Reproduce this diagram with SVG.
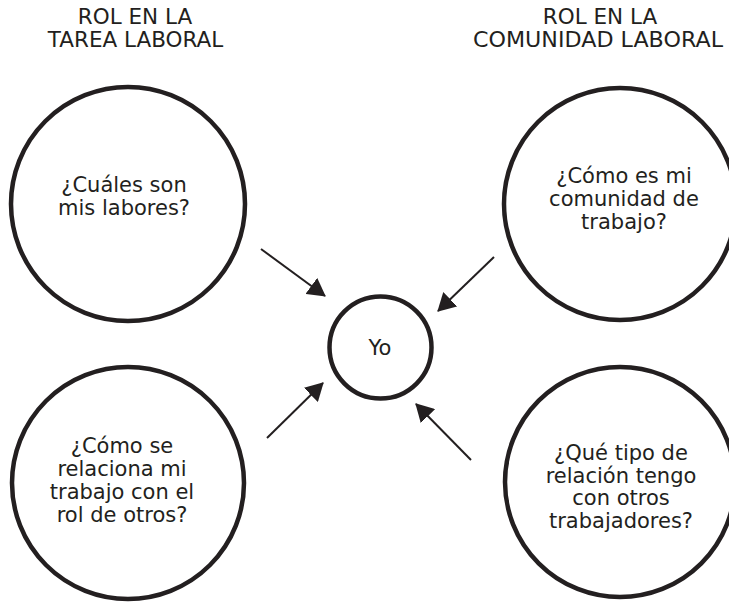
<svg xmlns="http://www.w3.org/2000/svg" width="729" height="605" viewBox="0 0 729 605">
<style>
text{font-family:"DejaVu Sans","Liberation Sans",sans-serif;fill:#231f20;text-anchor:middle}
.t{font-size:21.5px}
.q{font-size:21px}
.n{fill:#fff;stroke:#231f20;stroke-width:4.5}
.c{stroke:#231f20;stroke-width:2;fill:none}
</style>
<defs>
<marker id="ah" viewBox="0 0 18 20" refX="17" refY="10" markerWidth="18" markerHeight="20" markerUnits="userSpaceOnUse" orient="auto"><path d="M0,0L18,10L0,20z" fill="#231f20"/></marker>
</defs>
<rect width="729" height="605" fill="#fff"/>
<g id="title-left"><text class="t" x="135" y="24">ROL EN LA</text><text class="t" x="135.5" y="47">TAREA LABORAL</text></g>
<g id="title-right"><text class="t" x="600" y="24">ROL EN LA</text><text class="t" x="598" y="47" textLength="250" lengthAdjust="spacingAndGlyphs">COMUNIDAD LABORAL</text></g>
<g id="n-tl"><circle class="n" cx="128" cy="204" r="117"/><text class="q" x="124" y="192">¿Cuáles son</text><text class="q" x="124" y="215">mis labores?</text></g>
<g id="n-tr"><circle class="n" cx="620" cy="204" r="116"/><text class="q" x="624" y="183">¿Cómo es mi</text><text class="q" x="624" y="206">comunidad de</text><text class="q" x="624" y="228.5">trabajo?</text></g>
<g id="n-bl"><circle class="n" cx="128" cy="483" r="116"/><text class="q" x="122" y="453">¿Cómo se</text><text class="q" x="122" y="476">relaciona mi</text><text class="q" x="122" y="498.5">trabajo con el</text><text class="q" x="122" y="521.5">rol de otros?</text></g>
<g id="n-br"><circle class="n" cx="620" cy="482" r="115"/><text class="q" x="621" y="460">¿Qué tipo de</text><text class="q" x="621" y="482.5">relación tengo</text><text class="q" x="621" y="505">con otros</text><text class="q" x="621" y="527.5">trabajadores?</text></g>
<g id="n-yo"><circle class="n" cx="380.5" cy="347.5" r="51"/><text class="q" x="380" y="355">Yo</text></g>
<g id="connectors">
<path class="c" d="M261,249L325,296" marker-end="url(#ah)"/>
<path class="c" d="M494,257L438,311" marker-end="url(#ah)"/>
<path class="c" d="M267,438L323,383" marker-end="url(#ah)"/>
<path class="c" d="M471,460L416,404" marker-end="url(#ah)"/>
</g>
</svg>
